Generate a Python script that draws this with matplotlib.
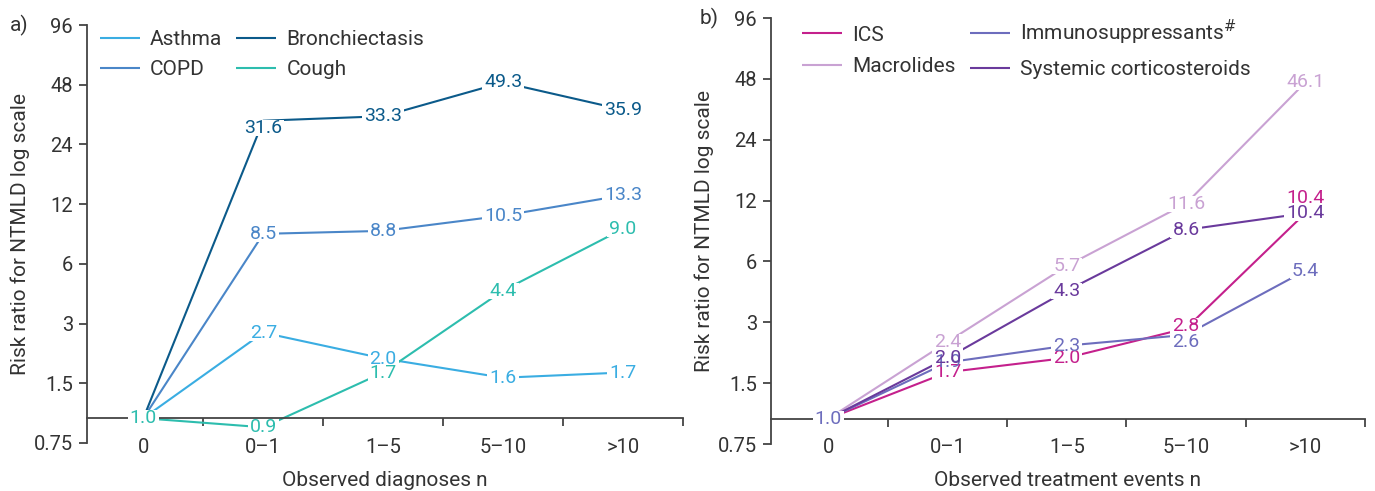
import matplotlib
matplotlib.use('Agg')
import matplotlib.pyplot as plt
from matplotlib.patches import Rectangle

plt.rcParams['font.family'] = ['Roboto', 'DejaVu Sans']

# ---------------- data ----------------
categories = ['0', '0\u20131', '1\u20135', '5\u201310', '>10']
ytick_values = [0.75, 1.5, 3, 6, 12, 24, 48, 96]
ytick_labels = ['0.75', '1.5', '3', '6', '12', '24', '48', '96']

# panel a: observed diagnoses
asthma = [1.0, 2.7, 2.0, 1.6, 1.7]
bronchiectasis = [1.0, 31.6, 33.3, 49.3, 35.9]
copd = [1.0, 8.5, 8.8, 10.5, 13.3]
cough = [1.0, 0.9, 1.7, 4.4, 9.0]

# panel b: observed treatment events
ics = [1.0, 1.7, 2.0, 2.8, 10.4]
immunosuppressants = [1.0, 1.9, 2.3, 2.6, 5.4]
macrolides = [1.0, 2.4, 5.7, 11.6, 46.1]
systemic_cs = [1.0, 2.0, 4.3, 8.6, 10.4]

# ---------------- style ----------------
TXT = '#333333'
AX = '#444444'
FS_TICK = 14.5
FS_LAB = 15
FS_LEG = 15
FS_DATA = 14

series_a = [
    ('Asthma', asthma, '#3aade2', False),
    ('COPD', copd, '#4a86c8', False),
    ('Bronchiectasis', bronchiectasis, '#0b5a8a', False),
    ('Cough', cough, '#2dbdae', True),
]
series_b = [
    ('ICS', ics, '#c4208c', False),
    ('Macrolides', macrolides, '#c9a2d3', False),
    ('Immunosuppressants$^{\\#}$', immunosuppressants, '#6d6dbd', True),
    ('Systemic corticosteroids', systemic_cs, '#6a3a9c', False),
]
# small vertical nudges (in points) for a few labels
nudges = {('Bronchiectasis', 1): -5, ('ICS', 4): 11, ('ICS', 3): 2,
          ('Immunosuppressants$^{\\#}$', 3): -5}

fig = plt.figure(figsize=(13.75, 4.91), dpi=100)
ax_a = fig.add_axes([87 / 1375, 1 - 443 / 491, (683 - 87) / 1375, (443 - 25) / 491])
ax_b = fig.add_axes([771 / 1375, 1 - 444 / 491, (1365 - 771) / 1375, (444 - 18) / 491])


def style_axes(ax, xlabel, xleft):
    ax.set_yscale('log', base=2)
    ax.set_ylim(0.75, 96)
    ax.set_xlim(xleft, 4.5)
    ax.set_yticks(ytick_values)
    ax.set_yticklabels(ytick_labels)
    ax.minorticks_off()
    ax.set_xticks(range(len(categories)))
    ax.set_xticklabels(categories)
    ax.set_xticks([i + 0.5 for i in range(len(categories))], minor=True)
    ax.tick_params(axis='x', which='major', length=0, pad=14, labelsize=FS_TICK, labelcolor=TXT)
    ax.tick_params(axis='x', which='minor', length=6, width=1.3, color=AX, direction='out')
    ax.tick_params(axis='y', which='major', length=6, width=1.3, color=AX, labelsize=FS_TICK,
                   labelcolor=TXT, pad=4)
    ax.tick_params(axis='y', which='minor', length=0)
    for s in ['top', 'right']:
        ax.spines[s].set_visible(False)
    ax.spines['bottom'].set_position(('data', 1.0))
    for s in ['left', 'bottom']:
        ax.spines[s].set_color(AX)
        ax.spines[s].set_linewidth(1.3)
    ax.set_xlabel(xlabel, fontsize=FS_LAB, color=TXT, labelpad=10)
    ax.set_ylabel('Risk ratio for NTMLD log scale', fontsize=FS_LAB, color=TXT, labelpad=3)


value_texts = []


def draw(ax, series):
    xs = list(range(len(categories)))
    for name, vals, col, zero_lab in series:
        ax.plot(xs, vals, color=col, lw=1.5, zorder=2, label=name, solid_capstyle='butt')
    for name, vals, col, zero_lab in series:
        for i, v in enumerate(vals):
            if i == 0 and not zero_lab:
                continue
            dy = nudges.get((name, i), 0)
            t = ax.annotate(f'{v:.1f}', (i, v), xytext=(0, dy), textcoords='offset points',
                            ha='center', va='center', fontsize=FS_DATA, color=col, zorder=4)
            value_texts.append((ax, t))


style_axes(ax_a, 'Observed diagnoses n', -0.47)
style_axes(ax_b, 'Observed treatment events n', -0.48)
draw(ax_a, series_a)
draw(ax_b, series_b)

for ax, anchor, lsp in [(ax_a, (0.008, 1.007), 0.5), (ax_b, (0.039, 1.019), 0.6)]:
    leg = ax.legend(loc='upper left', bbox_to_anchor=anchor, ncol=2, frameon=False,
                    fontsize=FS_LEG, handlelength=1.92, handletextpad=0.48, columnspacing=0.67,
                    labelspacing=lsp, borderaxespad=0)
    for t in leg.get_texts():
        t.set_color(TXT)

fig.text(10 / 1375, 1 - 25 / 491, 'a)', fontsize=FS_LAB, color=TXT, ha='left', va='center')
fig.text(700 / 1375, 1 - 18 / 491, 'b)', fontsize=FS_LAB, color=TXT, ha='left', va='center')

# white knock-out boxes behind the value labels (lines stop short of the numbers)
fig.canvas.draw()
renderer = fig.canvas.get_renderer()
for ax, t in value_texts:
    bb = t.get_window_extent(renderer)
    inv = ax.transAxes.inverted()
    (x0, y0), (x1, y1) = inv.transform([(bb.x0 - 2, bb.y0 + 1), (bb.x1 + 2, bb.y1 - 1)])
    ax.add_patch(Rectangle((x0, y0), x1 - x0, y1 - y0, transform=ax.transAxes,
                           fc='white', ec='none', zorder=3, clip_on=False))

fig.savefig('out.png', dpi=100, facecolor='white')
